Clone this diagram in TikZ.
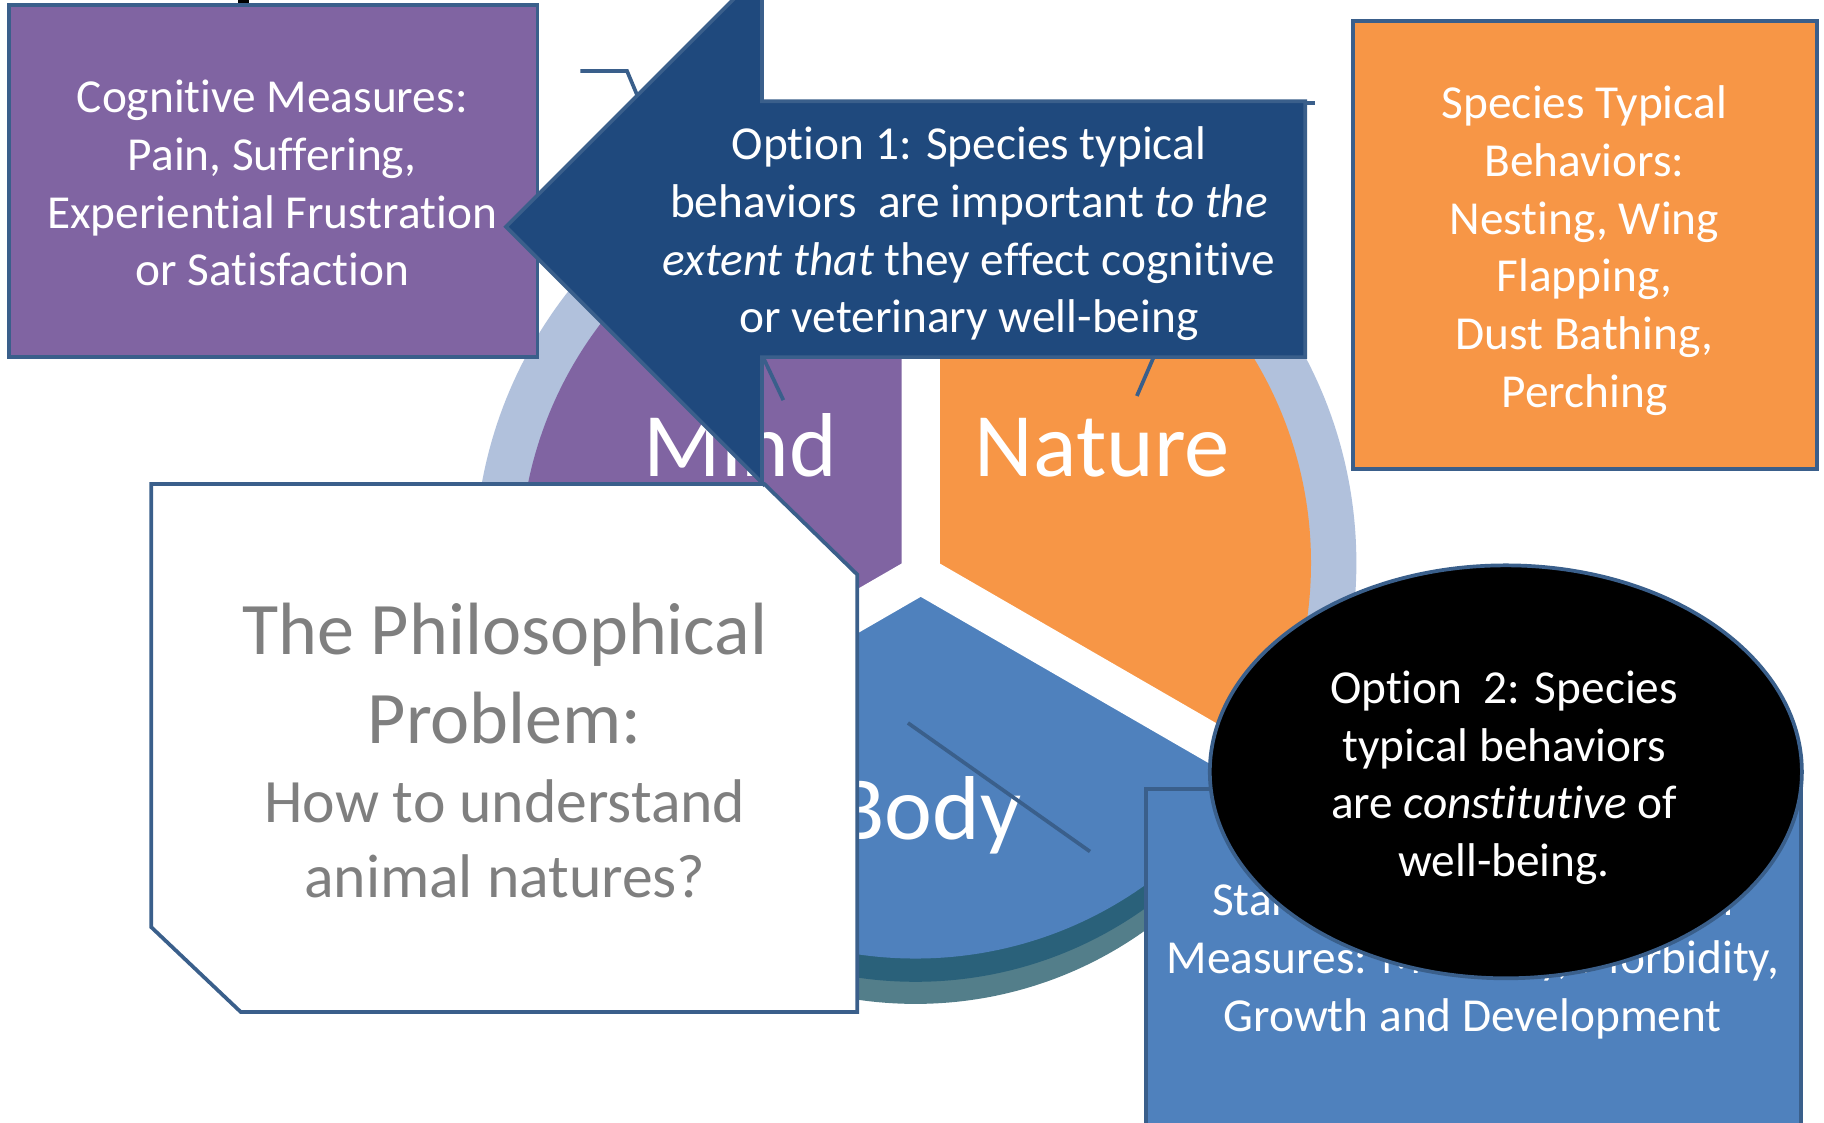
\documentclass[tikz,border=0pt]{standalone}
\usepackage{fontspec}
\setmainfont{Carlito}[Ligatures={NoCommon}]
\usetikzlibrary{shapes.geometric}
\definecolor{mindc}{HTML}{8064A2}
\definecolor{naturec}{HTML}{F79646}
\definecolor{bodyc}{HTML}{4F81BD}
\definecolor{arrowc}{HTML}{1F497D}
\definecolor{edgec}{HTML}{3A5F8B}
\definecolor{ringc}{HTML}{B1C1DC}
\definecolor{darkteal}{HTML}{2A617A}
\definecolor{grayteal}{HTML}{537E8A}
\definecolor{txtgray}{HTML}{7F7F7F}
\tikzset{
  boxedge/.style={draw=edgec, line width=3.2pt, line join=miter},
  leader/.style={draw=edgec, line width=3.2pt},
  lbl/.style={text=white, font=\fontsize{40.7}{49.6}\selectfont, align=center, inner sep=0pt},
  biglbl/.style={text=white, font=\fontsize{78}{94}\selectfont, inner sep=0pt},
  recbox/.style={boxedge, rectangle, inner sep=0pt},
}
\begin{document}
\begin{tikzpicture}[x=1pt,y=-1pt]
\useasboundingbox (0,0) rectangle (1568,965);

% ---- central pie ----
\coordinate (P) at (787,484);
\coordinate (J) at (791.5,494);
\begin{scope}
  \clip (0,0) rectangle (1568,740);
  \fill[ringc] (P) circle[radius=379];
\end{scope}
\begin{scope}
  \clip (J) -- ++(-800,462) -- ++(0,400) -- ++(1600,0) -- ++(0,-400) -- cycle;
  \fill[grayteal] (787,523) circle[radius=340];
  \fill[darkteal] (787,504) circle[radius=340];
\end{scope}
\begin{scope}
  \clip (P) circle[radius=340];
  \fill[mindc] (J) -- ++(0,-700) -- ++(-800,0) -- ++(0,1162) -- cycle;
  \fill[naturec] (J) -- ++(0,-700) -- ++(800,0) -- ++(0,1162) -- cycle;
  \fill[bodyc] (J) -- ++(-800,462) -- ++(0,400) -- ++(1600,0) -- ++(0,-400) -- cycle;
  \draw[white, line width=33pt, line cap=round] (J) -- ++(0,-700) (J) -- ++(-800,462) (J) -- ++(800,462);
\end{scope}

\node[biglbl, anchor=base] (mind) at (636.5,410) {Mind};
\node[biglbl, anchor=base] (nature) at (947.5,410) {Nature};
\node[biglbl, anchor=base] (body) at (798,722) {Body};

% leader lines
\coordinate (l3a) at (655,305); \coordinate (l3b) at (673.4,344);
\coordinate (l4a) at (992.6,305); \coordinate (l4b) at (977.3,340.4);
\coordinate (l5a) at (780.5,621.5); \coordinate (l5b) at (937,732);
\draw[leader] (l3a) -- (l3b);
\draw[leader] (l4a) -- (l4b);
\draw[leader] (l5a) -- (l5b);

% ---- philosophical problem box ----
\draw[boxedge, fill=white] (130,416) -- (657,416) -- (737,494) -- (737,870) -- (207,870) -- (130,797) -- cycle;
\node[text=txtgray, font=\fontsize{63.7}{76}\selectfont, align=center, inner sep=0pt] (ph1) at (434,579) {The Philosophical\\Problem:};
\node[text=txtgray, font=\fontsize{53}{65}\selectfont, align=center, inner sep=0pt] (ph2) at (434,721) {How to understand\\animal natures?};

% ---- cognitive box ----
\fill[black] (205,0) rectangle (214,4);
\node[recbox, fill=mindc, minimum width=454, minimum height=303] (cog) at (235,155.5) {};
\node[lbl] (cogtxt) at (234,157.5)
  {Cognitive Measures:\\Pain, Suffering,\\Experiential Frustration\\or Satisfaction};
\coordinate (l1a) at (499,61); \coordinate (l1b) at (539,61); \coordinate (l1c) at (552,92);
\draw[leader] (l1a) -- (l1b) -- (l1c);
\coordinate (l2a) at (1118,88.5); \coordinate (l2b) at (1130,88.5);
\draw[leader] (l2a) -- (l2b);

% ---- option 1 arrow callout ----
\draw[boxedge, fill=arrowc] (435,195) -- (655,-25) -- (655,87) -- (1122,87) -- (1122,307) -- (655,307) -- (655,415) -- cycle;
\node[lbl] (opt1) at (833,201)
  {Option 1: Species typical\\behaviors\ \ are important \textit{to the}\\\textit{extent that} they effect cognitive\\or veterinary well-being};

% ---- species typical box ----
\node[recbox, fill=naturec, minimum width=399, minimum height=385] (spec) at (1362.5,210.5) {};
\node[lbl] (spectxt) at (1362,215.5)
  {Species Typical\\Behaviors:\\Nesting, Wing\\Flapping,\\Dust Bathing,\\Perching};

% ---- veterinary box ----
\draw[boxedge, fill=bodyc] (985,678) rectangle (1548,990);
\node[lbl] (vet) at (1266,826) {Standard Veterinary Health\\Measures: Mortality, Morbidity,\\Growth and Development};

% ---- option 2 ellipse ----
\node[boxedge, ellipse, fill=black, minimum width=509, minimum height=355, inner sep=0pt] (opt2) at (1294.5,663.5) {};
\node[lbl] (opt2txt) at (1293,668.5)
  {Option\ \ 2: Species\\typical behaviors\\are \textit{constitutive} of\\well-being.};
\end{tikzpicture}
\end{document}
